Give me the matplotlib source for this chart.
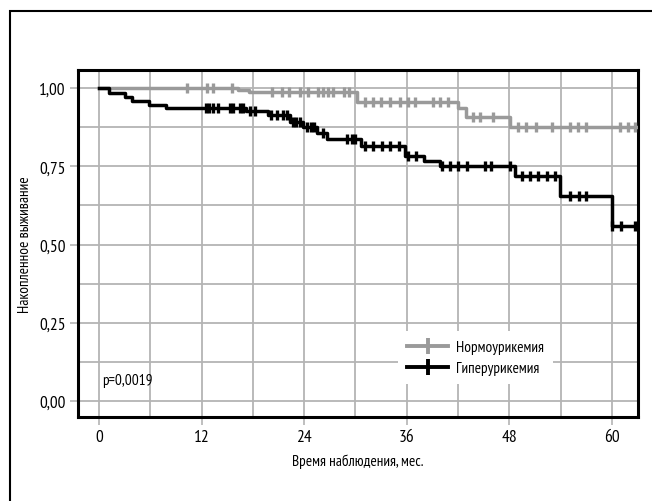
import numpy as np
import matplotlib
matplotlib.use('Agg')
import matplotlib.pyplot as plt
from matplotlib.lines import Line2D
from matplotlib.patches import Rectangle

plt.rcParams['font.family'] = ['PT Sans Narrow', 'DejaVu Sans']

# Нормоурикемия (grey)
normoTimes = [0, 16.2, 17.5, 30.2, 42.0, 42.9, 48.1]
normoSurv = [1.0, 0.995, 0.986, 0.954, 0.935, 0.908, 0.876]
normoCens = [10.3, 12.6, 13.3, 15.5, 20.2, 21.4, 22.2, 23.5, 24.4, 25.6, 26.2, 26.8, 27.4,
             28.7, 29.3, 31.1, 32.0, 33.0, 34.0, 35.2, 36.2, 37.0, 39.1, 39.9, 40.8,
             43.8, 44.6, 46.1, 49.0, 50.0, 51.1, 53.0, 55.1, 56.0, 57.0, 61.0, 61.9, 62.7]

# Гиперурикемия (black)
hyperTimes = [0, 1.2, 3.0, 3.9, 5.9, 7.8, 17.2, 19.8, 22.3, 23.9, 25.5, 26.7, 30.7,
              35.8, 38.0, 39.9, 48.7, 53.9, 60.0]
hyperSurv = [1.0, 0.983, 0.971, 0.959, 0.946, 0.935, 0.927, 0.914, 0.890, 0.874, 0.856,
             0.837, 0.814, 0.784, 0.768, 0.752, 0.720, 0.656, 0.560]
hyperCens = [12.5, 12.9, 13.3, 13.9, 15.3, 15.7, 16.5, 16.9, 17.7, 18.3, 20.1, 20.8, 21.5,
             22.0, 22.7, 23.1, 23.5, 24.3, 24.8, 25.2, 26.2, 29.0, 29.6, 30.0, 31.1, 32.1,
             33.1, 34.0, 35.1, 36.2, 37.1, 40.1, 41.1, 42.0, 43.0, 45.1, 45.9, 48.1, 49.5,
             50.4, 51.4, 52.4, 53.3, 55.1, 56.1, 57.0, 60.05, 61.1, 62.7]

tMax = 63.2
xTicks = [0, 12, 24, 36, 48, 60]
yTicks = [0, 0.25, 0.5, 0.75, 1.0]
yTickLabels = ['0,00', '0,25', '0,50', '0,75', '1,00']

grey = '#9a9a9a'
gridCol = '#b4b4b4'

fig = plt.figure(figsize=(6.52, 5.02), dpi=100)
fig.patches.append(Rectangle((10/652, -0.2), 1.2, 1.2 - 12/502, transform=fig.transFigure,
                             fill=False, edgecolor='black', linewidth=1.5))
ax = fig.add_axes([78/652, 1 - 418/502, 560/652, 347/502])


def draw_km(times, surv, cens, col):
    ax.step(times + [tMax], surv + [surv[-1]], where='post', color=col, lw=2.5, zorder=3)
    idx = np.searchsorted(times, cens, side='right') - 1
    lev = np.array(surv)[idx]
    ax.plot(cens, lev, linestyle='none', marker='|', markersize=7.5, markeredgewidth=2.4,
            color=col, zorder=4)


draw_km(normoTimes, normoSurv, normoCens, grey)
draw_km(hyperTimes, hyperSurv, hyperCens, 'black')

ax.set_xlim(-2.46, 63.05)
ax.set_ylim(-0.051, 1.0575)
ax.set_xticks(xTicks)
ax.set_xticks(np.arange(6, 61, 12), minor=True)
ax.set_yticks(yTicks)
ax.set_yticklabels(yTickLabels)
ax.set_yticks([0.125, 0.375, 0.625, 0.875], minor=True)
ax.grid(True, which='both', color=gridCol, linewidth=1.3)
ax.set_axisbelow(True)
ax.tick_params(which='major', direction='out', length=6, width=1.2, color=gridCol,
               labelsize=12.5, pad=3)
ax.tick_params(which='minor', length=0)
for sp in ax.spines.values():
    sp.set_linewidth(2.2)

ax.set_xlabel('Время наблюдения, мес.', fontsize=11, labelpad=6)
ax.set_ylabel('Накопленное выживание', fontsize=11, labelpad=5)
ax.text(3.3, 0.067, 'p=0,0019', fontsize=11, ha='center', va='center')

handles = [Line2D([], [], color=grey, lw=2.8, marker='|', markersize=12, markeredgewidth=2.8),
           Line2D([], [], color='black', lw=2.8, marker='|', markersize=12, markeredgewidth=2.8)]
leg = ax.legend(handles, ['Нормоурикемия', 'Гиперурикемия'], loc='upper left',
                bbox_to_anchor=(0.571, 0.248), borderaxespad=0, fontsize=11,
                handlelength=2.7, handletextpad=0.5, labelspacing=0.45, fancybox=False,
                framealpha=1, facecolor='white', edgecolor='none', borderpad=0.6)
leg.set_zorder(5)

plt.savefig('out.png', dpi=100)
